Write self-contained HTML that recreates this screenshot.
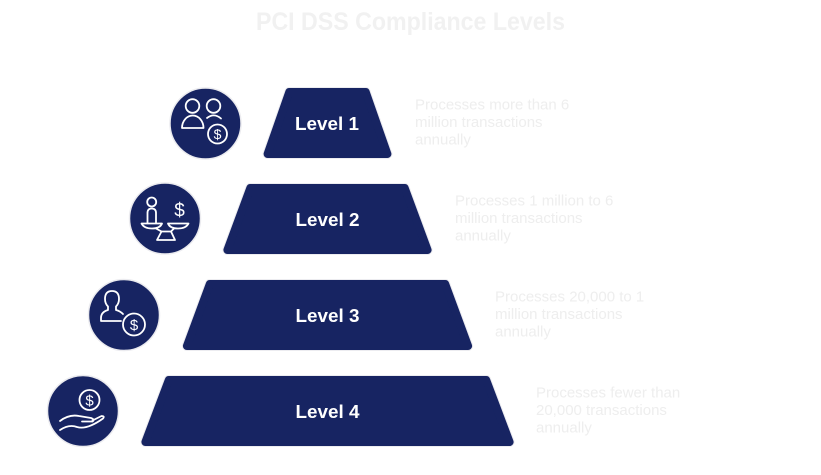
<!DOCTYPE html>
<html>
<head>
<meta charset="utf-8">
<style>
  html, body { margin:0; padding:0; background:#ffffff; }
  body { width:821px; height:475px; overflow:hidden; }
  svg { display:block; }
  .title { font-family:"Liberation Sans", Arial, sans-serif; font-weight:bold; font-size:25px; fill:#f1f1f1; }
  .lvl { font-family:"Liberation Sans", Arial, sans-serif; font-weight:bold; font-size:18px; fill:#ffffff; }
  .desc { font-family:"Liberation Sans", Arial, sans-serif; font-size:15px; fill:#eeeeee; }
  .ic { fill:none; stroke:#ffffff; stroke-width:1.8; stroke-linecap:round; stroke-linejoin:round; }
  .dol { font-family:"Liberation Sans", Arial, sans-serif; font-size:14px; fill:#ffffff; }
</style>
</head>
<body>
<svg width="821" height="475" viewBox="0 0 821 475" xmlns="http://www.w3.org/2000/svg">
  <text class="title" x="256" y="30" textLength="309" lengthAdjust="spacingAndGlyphs">PCI DSS Compliance Levels</text>

  <!-- trapezoid outlines -->
  <g fill="#ececf0" stroke="#ececf0" stroke-width="10" stroke-linejoin="round">
    <polygon points="289.3,92 365.7,92 387.4,154 267.6,154"/>
    <polygon points="250.3,188 404.7,188 427.6,250 227.4,250"/>
    <polygon points="209.8,284 445.2,284 468.1,346 186.9,346"/>
    <polygon points="168.8,380 486.2,380 509.6,442 145.4,442"/>
  </g>
  <!-- trapezoids -->
  <g fill="#172462" stroke="#172462" stroke-width="8" stroke-linejoin="round">
    <polygon points="289.3,92 365.7,92 387.4,154 267.6,154"/>
    <polygon points="250.3,188 404.7,188 427.6,250 227.4,250"/>
    <polygon points="209.8,284 445.2,284 468.1,346 186.9,346"/>
    <polygon points="168.8,380 486.2,380 509.6,442 145.4,442"/>
  </g>

  <text class="lvl" x="295" y="130" textLength="64" lengthAdjust="spacingAndGlyphs">Level 1</text>
  <text class="lvl" x="295.5" y="226" textLength="64" lengthAdjust="spacingAndGlyphs">Level 2</text>
  <text class="lvl" x="295.5" y="322" textLength="64" lengthAdjust="spacingAndGlyphs">Level 3</text>
  <text class="lvl" x="295.5" y="418" textLength="64" lengthAdjust="spacingAndGlyphs">Level 4</text>

  <!-- descriptions -->
  <text class="desc" x="415" y="109.5">Processes more than 6</text>
  <text class="desc" x="415" y="127">million transactions</text>
  <text class="desc" x="415" y="144.5">annually</text>

  <text class="desc" x="455" y="205.5">Processes 1 million to 6</text>
  <text class="desc" x="455" y="223">million transactions</text>
  <text class="desc" x="455" y="240.5">annually</text>

  <text class="desc" x="495" y="301.5">Processes 20,000 to 1</text>
  <text class="desc" x="495" y="319">million transactions</text>
  <text class="desc" x="495" y="336.5">annually</text>

  <text class="desc" x="536" y="397.5">Processes fewer than</text>
  <text class="desc" x="536" y="415">20,000 transactions</text>
  <text class="desc" x="536" y="432.5">annually</text>

  <!-- circles -->
  <g fill="#172462" stroke="#ebebef" stroke-width="1.5">
    <circle cx="205.5" cy="123.5" r="35.5"/>
    <circle cx="165" cy="218.5" r="35.5"/>
    <circle cx="124" cy="315" r="35.5"/>
    <circle cx="83" cy="411" r="35.5"/>
  </g>

  <!-- Icon 1: two people + coin -->
  <g transform="translate(205.5,123.5)">
    <circle class="ic" cx="-13" cy="-17.5" r="6.8"/>
    <circle class="ic" cx="8" cy="-17.5" r="6.8"/>
    <path class="ic" d="M -23.5 4.5 A 10.75 12.5 0 0 1 -2 4.5 Z"/>
    <path class="ic" d="M 1.5 -5.5 Q 8.5 -11 15.5 -5"/>
    <circle cx="12" cy="10.5" r="10.5" fill="#172462" stroke="none"/>
    <circle class="ic" cx="12" cy="10.5" r="9.5"/>
    <text class="dol" x="12" y="15.5" text-anchor="middle">$</text>
  </g>

  <!-- Icon 2: person on scale with dollar -->
  <g transform="translate(165,218.5)">
    <circle class="ic" cx="-13.3" cy="-16.5" r="4.5"/>
    <path class="ic" d="M -17.5 4.5 L -17.5 -5.5 Q -17.5 -10 -13.3 -10 Q -9 -10 -9 -5.5 L -9 4.5"/>
    <path class="ic" d="M -23.5 5 L -3 5 Q -5 10 -13 10 Q -21 10 -23.5 5 Z"/>
    <path class="ic" d="M 3 5 L 23.5 5 Q 21 10 13 10 Q 5 10 3 5 Z"/>
    <path class="ic" d="M -9 10 L -3.5 13 M 9 10 L 6 13"/>
    <path class="ic" d="M -3.5 13 L 6 13 L 10 21.5 L -8 21.5 Z"/>
    <text x="14.5" y="-2" text-anchor="middle" style="font-family:'Liberation Sans',Arial,sans-serif;font-size:19px;fill:#fff;">$</text>
  </g>

  <!-- Icon 3: person + coin -->
  <g transform="translate(124,315)">
    <path class="ic" d="M -1 -1 Q -4 -4 -8 -5 L -8 -8.5 Q -5 -11.5 -5 -16 Q -5 -24 -12 -24 Q -19 -24 -19 -16 Q -19 -11.5 -16 -8.5 L -16 -5 Q -23 -3 -23 3 L -23 6 L -3 6"/>
    <circle cx="10" cy="9.5" r="12" fill="#172462" stroke="none"/>
    <circle class="ic" cx="10" cy="9.5" r="11"/>
    <text class="dol" x="10" y="15" text-anchor="middle" style="font-size:15px">$</text>
  </g>

  <!-- Icon 4: hand with coin -->
  <g transform="translate(83,411)">
    <circle class="ic" cx="6.5" cy="-11" r="10"/>
    <text class="dol" x="6.5" y="-5.5" text-anchor="middle" style="font-size:15px">$</text>
    <path class="ic" d="M -23 10 Q -14 3 -4 5 L 8 7 Q 12 8.5 9.5 10.5 L -1 10.5"/>
    <path class="ic" d="M -23 19 Q -14 13 -6 16 Q 4 19 20 7.5 Q 22 5 18.5 5 L 9.5 9.5"/>
  </g>
</svg>
</body>
</html>
